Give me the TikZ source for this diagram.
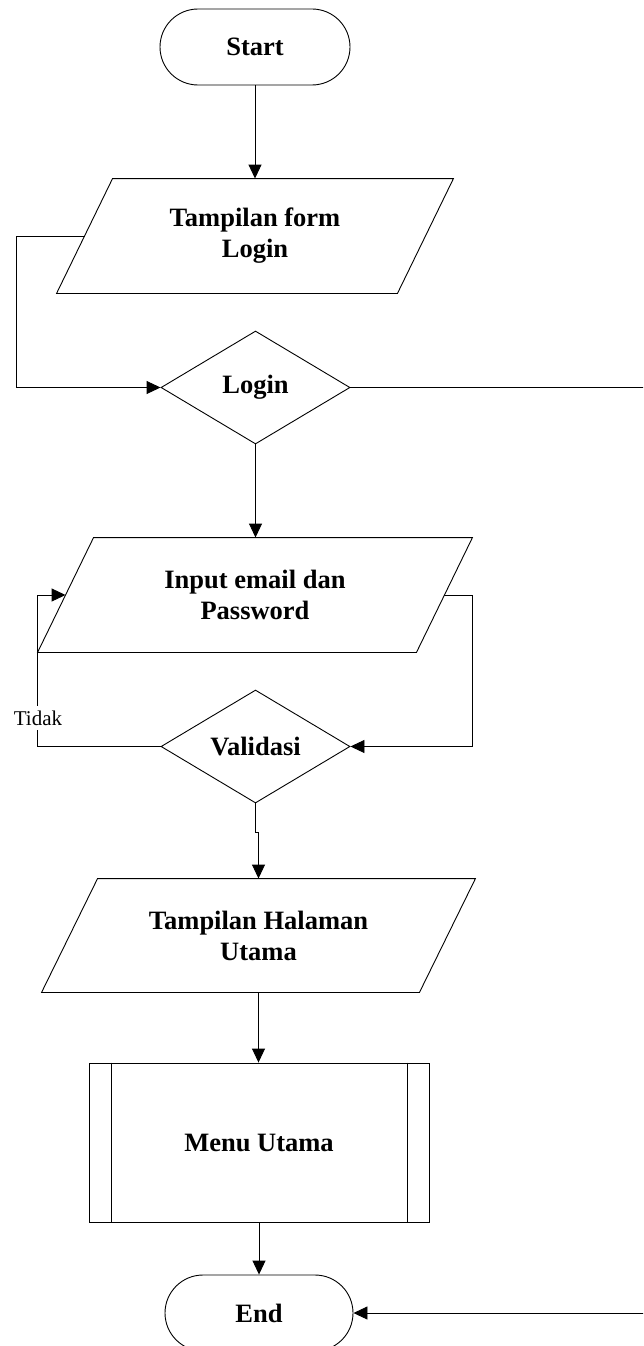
\documentclass[tikz,border=0pt]{standalone}
\usepackage{fontspec}
\setmainfont{Liberation Serif}
\usetikzlibrary{shapes.geometric,arrows.meta,calc}
\begin{document}
\begin{tikzpicture}[x=1pt,y=-1pt,
  line width=0.9pt,
  flow/.style={-{Triangle[length=14pt,width=13pt]}},
  boxtext/.style={font=\fontsize{26.5}{31}\selectfont\bfseries, align=center},
  terminal/.style={boxtext, draw, rounded corners=38pt, minimum width=190pt, minimum height=76pt, inner sep=0pt},
  decision/.style={boxtext, draw, diamond, aspect=1.67, minimum width=189pt, minimum height=113pt, inner sep=0pt},
  iobox/.style={boxtext, minimum height=114pt, inner sep=0pt},
  procbox/.style={boxtext, draw, minimum width=340pt, minimum height=159pt, inner sep=0pt},
]
\useasboundingbox (0,0) rectangle (643,1346);
\clip (0,0) rectangle (643,1346);

% flow steps
\node[terminal] (start) at (255,47) {Start};
\node[iobox, minimum width=396pt] (form) at (255,236) {Tampilan form\\Login};
\node[decision] (login) at (255.5,387.5) {Login};
\node[iobox, minimum width=434pt] (input) at (255,595) {Input email dan\\Password};
\node[decision] (valid) at (255.5,746.5) {Validasi};
\node[iobox, minimum width=433pt, minimum height=113pt] (home) at (258.5,935.5) {Tampilan Halaman\\Utama};
\node[procbox] (menu) at (259,1142.5) {Menu Utama};
\node[terminal, minimum width=188pt] (end) at (259,1313) {End};
\coordinate (rim) at (645,0);

% parallelogram outlines of the input/output steps
\foreach \n in {form,input,home}{
  \draw ($(\n.north west)+(56,0)$) -- (\n.north east)
        -- ($(\n.south east)-(56,0)$) -- (\n.south west) -- cycle;
}

% side bars of the predefined process
\draw ([xshift=23pt]menu.north west) -- ([xshift=23pt]menu.south west);
\draw ([xshift=-22pt]menu.north east) -- ([xshift=-22pt]menu.south east);

% connectors
\draw[flow] (start.south) -- (form.north);
\draw[flow] ($(form.west)+(28,0)$) -- ++(-68,0) |- (login.west);
\draw[flow] (login.south) -- (login.south |- input.north);
\draw[flow] (login.east) -- (login.east -| rim) |- (end.east);
\draw[flow] ($(input.east)-(28,0)$) -- (input.east) |- (valid.east);
\draw[flow] (valid.west) -| (input.west) -- ($(input.west)+(28,0)$);
\node[fill=white, font=\fontsize{21}{25}\selectfont, inner xsep=1pt, inner ysep=5pt] (no) at (38,718) {Tidak};
\draw[flow] (valid.south) -- ++(0,29) -| (home.north);
\draw[flow] (home.south) -- (home.south |- menu.north);
\draw[flow] (menu.south) -- (end.north);
\end{tikzpicture}
\end{document}
